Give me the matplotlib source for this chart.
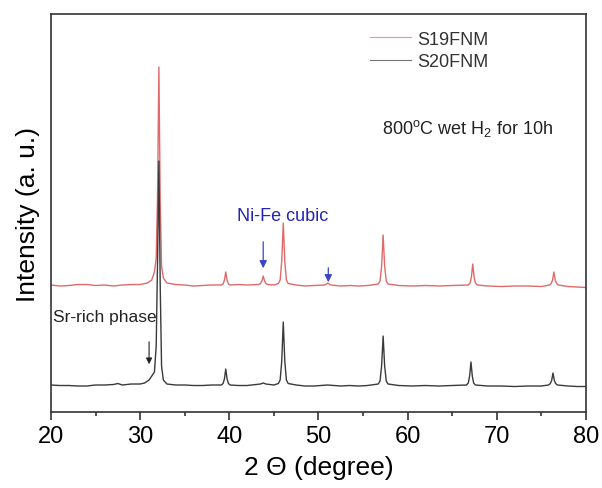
import numpy as np
import matplotlib
matplotlib.use('Agg')
import matplotlib.pyplot as plt
from matplotlib.ticker import MultipleLocator

plt.rcParams['font.family'] = ['Liberation Sans', 'DejaVu Sans']
plt.rcParams['mathtext.fontset'] = 'custom'
plt.rcParams['mathtext.rm'] = 'Liberation Sans'
plt.rcParams['mathtext.it'] = 'Liberation Sans:italic'

# 读取的数据点 (2θ, 相对强度)
s19_tt = [20.0, 21.0, 22.0, 23.0, 24.0, 25.0, 26.0, 27.0, 28.0, 29.0, 30.0, 30.8,
          31.3, 31.6, 31.8, 31.95, 32.1, 32.25, 32.4, 32.6, 33.0, 34.0, 35.0, 36.0, 37.0, 38.0,
          39.1, 39.3, 39.45, 39.6, 39.75, 39.9, 40.1, 41.0, 42.0,
          43.3, 43.5, 43.65, 43.8, 43.95, 44.1, 44.3, 45.0,
          45.5, 45.7, 45.88, 46.05, 46.22, 46.4, 46.6, 47.5, 48.5, 49.5,
          50.7, 50.9, 51.05, 51.2, 51.4, 52.5, 53.5, 54.5, 55.5,
          56.7, 56.9, 57.08, 57.25, 57.42, 57.6, 57.8, 59.0, 60.5, 62.0, 63.5, 65.0,
          66.8, 67.0, 67.15, 67.3, 67.45, 67.6, 67.8, 69.0, 70.5, 72.0, 73.5, 75.0,
          75.9, 76.1, 76.25, 76.4, 76.55, 76.7, 76.9, 78.0, 79.0, 80.0]
s19_int = [1, 0, 0.5, 1.5, 1.5, 0.5, 1, 0, 1, 1.5, 1.5, 3,
           6, 14, 28, 90, 219, 85, 20, 8, 3, 1.5, 1, 0, 0.5, 1,
           1, 2, 6, 14, 6, 2, 1, 1.5, 1,
           1.5, 2.5, 5, 10, 5, 2.5, 1.5, 1,
           2.5, 6, 25, 63, 25, 6, 2.5, 1, 0, 0.5,
           1, 2, 3, 2, 1, 0, 0.5, 0, 0.5,
           2, 5, 20, 51, 20, 5, 2, 0.5, 0, 0.5, 0, 0.5,
           1, 3, 9, 22, 9, 3, 1, 0, -0.5, 0, 0, -0.5,
           1, 2.5, 6, 14, 6, 2.5, 1, -0.5, -1, -1.5]

s20_tt = [20.0, 21.0, 22.0, 23.0, 24.0, 25.0, 26.0, 27.0, 27.5, 28.0, 29.0, 30.0, 30.5,
          31.0, 31.3, 31.6, 31.8, 31.95, 32.1, 32.25, 32.4, 32.6, 33.0, 34.0, 35.0, 36.0, 37.0, 38.0,
          39.1, 39.3, 39.45, 39.6, 39.75, 39.9, 40.1, 41.0, 42.0,
          43.5, 43.8, 44.1, 45.0,
          45.5, 45.7, 45.88, 46.05, 46.22, 46.4, 46.6, 47.5, 48.5, 49.5,
          51.0, 52.5, 53.5, 54.5, 55.5,
          56.7, 56.9, 57.08, 57.25, 57.42, 57.6, 57.8, 59.0, 60.5, 62.0, 63.5, 65.0,
          66.6, 66.8, 66.95, 67.1, 67.25, 67.4, 67.6, 69.0, 70.5, 72.0, 73.5, 75.0,
          75.8, 76.0, 76.15, 76.3, 76.45, 76.6, 76.8, 78.0, 79.0, 80.0]
s20_int = [1, 0.5, 0.5, 0, 0, 1, 1, 1.5, 2.5, 1, 2, 2, 3,
           6, 10, 14, 40, 125, 225, 100, 20, 6, 2, 1, 1, 0.5, 0.5, 1,
           1, 2.5, 7, 17, 7, 2.5, 1, 0.5, 0.5,
           2, 3, 2, 1,
           2.5, 6, 25, 64, 25, 6, 2.5, 1, 0, 0,
           1, 0, 0.5, 0, 0.5,
           2, 5, 20, 50, 20, 5, 2, 0.5, 0, 0.5, 0, 0.5,
           1, 3, 10, 24, 10, 3, 1, 0, 0, -0.5, 0, 0,
           1, 2.5, 5.5, 13, 5.5, 2.5, 1, 0, -0.5, -0.5]

s19_offset = 126
s20_offset = 26

fig, ax = plt.subplots(figsize=(6.02, 4.89), dpi=100)
fig.subplots_adjust(left=0.0847, right=0.9734, bottom=0.1554, top=0.9693)

ax.plot(s19_tt, np.array(s19_int) + s19_offset, color='#e06a6a', lw=1.0, label='S19FNM')
ax.plot(s20_tt, np.array(s20_int) + s20_offset, color='#3a3a3a', lw=1.0, label='S20FNM')

ax.set_xlim(20, 80)
ax.set_ylim(0, 398)
ax.xaxis.set_major_locator(MultipleLocator(10))
ax.xaxis.set_minor_locator(MultipleLocator(5))
ax.set_yticks([])
ax.tick_params(axis='x', which='major', direction='out', length=6, width=1.2,
               labelsize=17, color='#333333', pad=3)
ax.tick_params(axis='x', which='minor', direction='out', length=3, width=1.2, color='#333333')
for sp in ax.spines.values():
    sp.set_color('#333333')
    sp.set_linewidth(1.2)

ax.set_xlabel('2 Θ (degree)', fontsize=19, labelpad=6)
ax.set_ylabel('Intensity (a. u.)', fontsize=19, labelpad=8)

leg = ax.legend(loc='upper left', bbox_to_anchor=(0.596, 0.958), frameon=False,
                fontsize=13, handlelength=2.3, handletextpad=0.35, labelspacing=0.3,
                borderpad=0, borderaxespad=0)
for t in leg.get_texts():
    t.set_color('#333333')
for h in leg.get_lines():
    h.set_linewidth(0.8)
    h.set_alpha(0.7)

ax.text(57.1, 285, '800$^{\\rm o}$C wet H$_2$ for 10h', fontsize=13, va='center', color='#222222')
ax.text(20.2, 96, 'Sr-rich phase', fontsize=12.5, va='center', color='#222222')
ax.text(40.9, 197, 'Ni-Fe cubic', fontsize=13, va='center', color='#2424b4')

ax.annotate('', xy=(43.8, 141), xytext=(43.8, 173),
            arrowprops=dict(arrowstyle='-|>', color='#3a44c8', lw=0.9, mutation_scale=11))
ax.annotate('', xy=(51.1, 127), xytext=(51.1, 147),
            arrowprops=dict(arrowstyle='-|>', color='#3a44c8', lw=0.9, mutation_scale=11))
ax.annotate('', xy=(31.0, 45), xytext=(31.0, 73),
            arrowprops=dict(arrowstyle='-|>', color='#222222', lw=0.8, mutation_scale=9))

fig.savefig('out.png', dpi=100)
